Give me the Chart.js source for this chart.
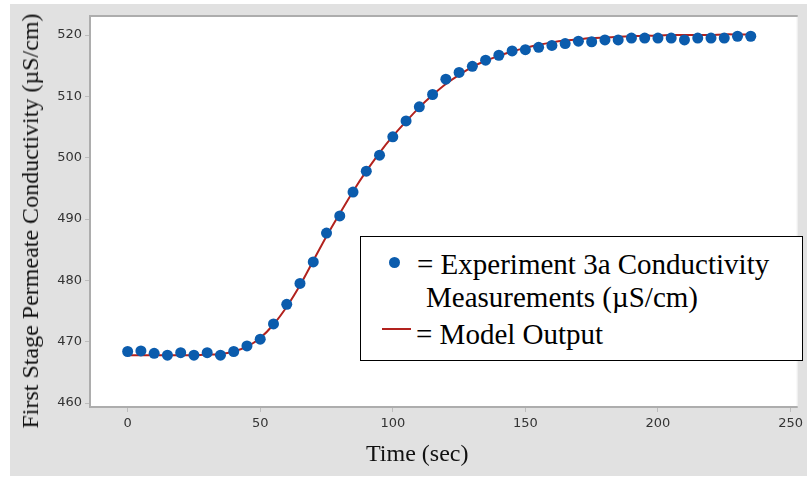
<!DOCTYPE html>
<html>
<head>
<meta charset="utf-8">
<script src="https://cdn.jsdelivr.net/npm/chart.js@4"></script>
<style>
  html, body { margin: 0; padding: 0; background: #fff; }
  #wrap { position: relative; width: 807px; height: 477px; }
  #legendBox {
    position: absolute; left: 360px; top: 236px; width: 441px; height: 123px;
    border: 1.5px solid #000; background: #fff;
    font-family: "Liberation Serif", "Times New Roman", serif; font-size: 29px; color: #000;
  }
  .row { position: absolute; white-space: nowrap; line-height: 34px; }
  .dot { position: absolute; width: 11px; height: 11px; border-radius: 50%; background: #0b5cad; }
  .dash { position: absolute; width: 29px; height: 2px; background: #b2221e; }
  .axTitle {
    position: absolute; white-space: nowrap; line-height: 28px;
    font-family: "Liberation Serif", "Times New Roman", serif; font-size: 24px; color: #111;
  }
  #xTitle { left: 366px; top: 439px; }
  #yTitle { left: 30px; top: 221px; transform: translate(-50%, -50%) rotate(-90deg); }
</style>
</head>
<body>
<div id="wrap">
  <canvas id="chart" width="807" height="477"></canvas>
  <div id="xTitle" class="axTitle">Time (sec)</div>
  <div id="yTitle" class="axTitle">First Stage Permeate Conductivity (µS/cm)</div>
  <div id="legendBox">
    <span class="dot" style="left:28px; top:20px;"></span>
    <span class="row" style="left:56px; top:10px;">= Experiment 3a Conductivity</span>
    <span class="row" style="left:65px; top:43px;">Measurements (µS/cm)</span>
    <span class="dash" style="left:21px; top:91px;"></span>
    <span class="row" style="left:55px; top:80px;">= Model Output</span>
  </div>
</div>
<script>
// time axis (sec)
const times = [0, 5, 10, 15, 20, 25, 30, 35, 40, 45, 50, 55, 60, 65, 70, 75, 80, 85, 90, 95,
  100, 105, 110, 115, 120, 125, 130, 135, 140, 145, 150, 155, 160, 165, 170, 175, 180, 185, 190, 195,
  200, 205, 210, 215, 220, 225, 230, 235];

// Experiment 3a measured conductivity (uS/cm)
const measured = [468.4, 468.5, 468.1, 467.8, 468.2, 467.8, 468.2, 467.8, 468.4, 469.3,
  470.4, 472.9, 476.1, 479.5, 483.0, 487.7, 490.5, 494.4, 497.8, 500.4,
  503.4, 506.0, 508.3, 510.3, 512.8, 513.9, 514.9, 515.9, 516.7, 517.4,
  517.6, 518.0, 518.3, 518.6, 519.0, 518.9, 519.2, 519.2, 519.5, 519.5,
  519.5, 519.5, 519.2, 519.5, 519.5, 519.5, 519.8, 519.8];

// model output
const model = [467.8, 467.8, 467.8, 467.8, 467.8, 467.8, 467.9, 468.0, 468.4, 469.2,
  470.6, 472.8, 475.7, 479.2, 483.2, 487.2, 490.9, 494.5, 497.8, 500.8,
  503.5, 505.9, 508.2, 510.2, 512.0, 513.5, 514.8, 515.8, 516.6, 517.3,
  517.9, 518.4, 518.8, 519.1, 519.3, 519.5, 519.6, 519.7, 519.8, 519.9,
  519.9, 520.0, 520.0, 520.0, 520.0, 520.1, 520.1, 520.1];

const xTicks = [0, 50, 100, 150, 200, 250];
const yTicks = [460, 470, 480, 490, 500, 510, 520];

const toPts = (xs, ys) => xs.map((x, i) => ({ x: x, y: ys[i] }));

const panelBg = {
  id: 'panelBg',
  beforeDraw(chart) {
    const { ctx, chartArea: a } = chart;
    ctx.save();
    ctx.fillStyle = '#fff';
    ctx.fillRect(0, 0, chart.width, chart.height);
    ctx.fillStyle = '#e1e1e1';
    ctx.fillRect(10, 4, chart.width - 10, chart.height - 5);
    ctx.fillStyle = '#fff';
    ctx.fillRect(a.left, a.top, a.right - a.left, a.bottom - a.top);
    ctx.restore();
  },
  afterDraw(chart) {
    const { ctx, chartArea: a } = chart;
    ctx.save();
    ctx.strokeStyle = '#ececec';
    ctx.lineWidth = 1;
    ctx.beginPath();
    ctx.moveTo(a.right - 0.5, a.top);
    ctx.lineTo(a.right - 0.5, a.bottom);
    ctx.stroke();
    ctx.strokeStyle = '#adadad';
    ctx.lineWidth = 2;
    ctx.beginPath();
    ctx.moveTo(a.right, a.top);
    ctx.lineTo(a.left, a.top);
    ctx.lineTo(a.left, a.bottom);
    ctx.lineTo(a.right, a.bottom);
    ctx.stroke();
    ctx.restore();
  }
};

new Chart(document.getElementById('chart'), {
  type: 'scatter',
  data: {
    datasets: [
      {
        label: 'Experiment 3a Conductivity Measurements',
        data: toPts(times, measured),
        backgroundColor: '#0b5cad',
        borderColor: '#0b5cad',
        pointRadius: 5.5,
        pointBorderWidth: 0,
        order: 0
      },
      {
        label: 'Model Output',
        data: toPts(times, model),
        showLine: true,
        borderColor: '#b2221e',
        borderWidth: 2,
        pointRadius: 0,
        tension: 0.3,
        order: 1
      }
    ]
  },
  options: {
    responsive: false,
    animation: false,
    layout: { padding: { left: 10, top: 16, right: 3, bottom: 0 } },
    plugins: { legend: { display: false }, tooltip: { enabled: false } },
    scales: {
      x: {
        type: 'linear',
        min: -14.2,
        max: 252.7,
        afterBuildTicks: s => { s.ticks = xTicks.map(v => ({ value: v })); },
        afterFit: s => { s.height = 70; },
        ticks: {
          padding: 4,
          color: '#333',
          font: { family: 'DejaVu Sans', size: 13 }
        },
        grid: { drawOnChartArea: false, drawTicks: true, tickLength: 5, color: '#bdbdbd' },
        border: { display: false }
      },
      y: {
        min: 459.35,
        max: 523.1,
        afterBuildTicks: s => { s.ticks = yTicks.map(v => ({ value: v })); },
        afterFit: s => { s.width = 80; },
        ticks: {
          padding: 3,
          color: '#333',
          font: { family: 'DejaVu Sans', size: 13 }
        },
        grid: { drawOnChartArea: false, drawTicks: true, tickLength: 5, color: '#bdbdbd' },
        border: { display: false }
      }
    }
  },
  plugins: [panelBg]
});
</script>
</body>
</html>
